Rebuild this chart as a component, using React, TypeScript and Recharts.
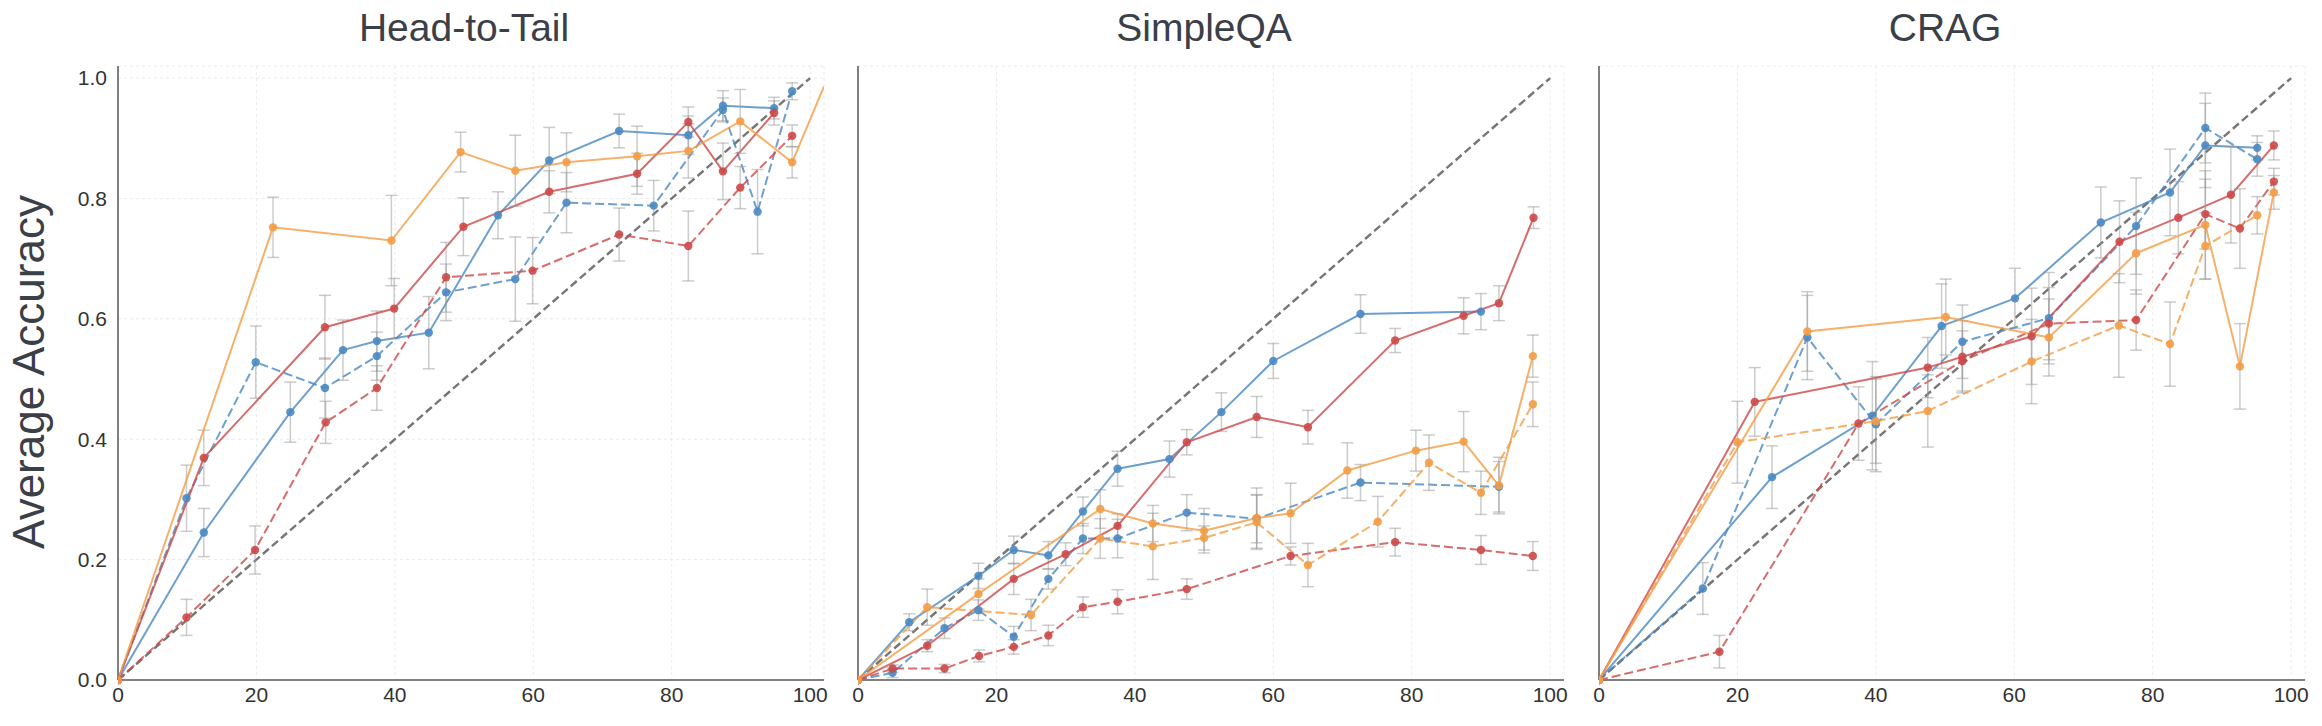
import React from 'react';
import { LineChart, Line, XAxis, YAxis, CartesianGrid, ErrorBar, ReferenceLine } from 'recharts';

type P = [number, number, number]; // [x, accuracy, error]

const X_TICKS = [0, 20, 40, 60, 80, 100];
const Y_TICKS = [0, 0.2, 0.4, 0.6, 0.8, 1.0];
const TITLES = ['Head-to-Tail', 'SimpleQA', 'CRAG'];
const Y_LABEL = 'Average Accuracy';

// ---------- Head-to-Tail ----------
const H2T_BLUE_SOLID: P[] = [[0, 0, 0], [12.4, 0.245, 0.04], [24.9, 0.445, 0.05], [32.5, 0.548, 0.05], [37.4, 0.563, 0.05], [44.9, 0.577, 0.06], [54.9, 0.772, 0.039], [62.3, 0.863, 0.055], [72.4, 0.912, 0.028], [82.4, 0.905, 0.032], [87.4, 0.954, 0.025], [94.8, 0.95, 0.018]];
const H2T_BLUE_DASHED: P[] = [[0, 0, 0], [9.9, 0.302, 0.055], [19.9, 0.528, 0.06], [29.9, 0.485, 0.05], [37.4, 0.538, 0.04], [47.4, 0.644, 0.047], [57.4, 0.666, 0.07], [64.8, 0.793, 0.05], [77.4, 0.788, 0.042], [87.4, 0.947, 0.02], [92.4, 0.778, 0.07], [97.4, 0.978, 0.014]];
const H2T_RED_SOLID: P[] = [[0, 0, 0], [12.4, 0.369, 0.046], [29.9, 0.586, 0.053], [39.9, 0.617, 0.05], [49.9, 0.753, 0.048], [62.3, 0.811, 0.035], [75.0, 0.841, 0.034], [82.4, 0.927, 0.025], [87.4, 0.845, 0.047], [94.8, 0.942, 0.02]];
const H2T_RED_DASHED: P[] = [[0, 0, 0], [9.9, 0.104, 0.03], [19.8, 0.216, 0.04], [30.0, 0.428, 0.035], [37.4, 0.485, 0.037], [47.4, 0.669, 0.058], [59.9, 0.68, 0.055], [72.4, 0.74, 0.044], [82.4, 0.721, 0.058], [89.9, 0.818, 0.035], [97.4, 0.904, 0.018]];
const H2T_ORANGE_SOLID: P[] = [[0, 0, 0], [22.4, 0.752, 0.05], [39.5, 0.73, 0.075], [49.5, 0.877, 0.033], [57.4, 0.846, 0.059], [64.8, 0.86, 0.049], [75.0, 0.87, 0.05], [82.4, 0.879, 0.045], [89.9, 0.928, 0.053], [97.4, 0.86, 0.026], [102, 0.986, 0]];

// ---------- SimpleQA ----------
const SQA_BLUE_SOLID: P[] = [[0, 0, 0], [7.4, 0.096, 0.014], [17.4, 0.173, 0.021], [22.5, 0.216, 0.023], [27.5, 0.207, 0.023], [32.5, 0.28, 0.024], [37.5, 0.351, 0.029], [45.0, 0.367, 0.03], [52.5, 0.445, 0.032], [60.0, 0.53, 0.029], [72.6, 0.608, 0.032], [90.0, 0.612, 0.03]];
const SQA_BLUE_DASHED: P[] = [[0, 0, 0], [5.0, 0.012, 0.008], [12.5, 0.086, 0.017], [17.4, 0.116, 0.017], [22.5, 0.072, 0.017], [27.5, 0.168, 0.017], [32.5, 0.235, 0.025], [37.5, 0.235, 0.032], [47.5, 0.278, 0.03], [57.6, 0.268, 0.04], [72.6, 0.328, 0.03], [92.6, 0.321, 0.042]];
const SQA_RED_SOLID: P[] = [[0, 0, 0], [10.0, 0.057, 0.01], [22.5, 0.168, 0.026], [30.0, 0.209, 0.019], [37.5, 0.256, 0.02], [47.5, 0.395, 0.021], [57.6, 0.437, 0.034], [65.0, 0.42, 0.028], [77.6, 0.564, 0.02], [87.5, 0.605, 0.03], [92.6, 0.626, 0.029], [97.6, 0.768, 0.018]];
const SQA_RED_DASHED: P[] = [[0, 0, 0], [5.0, 0.019, 0.006], [12.5, 0.019, 0.007], [17.5, 0.04, 0.01], [22.5, 0.055, 0.012], [27.5, 0.074, 0.017], [32.5, 0.121, 0.017], [37.5, 0.13, 0.02], [47.5, 0.151, 0.017], [62.5, 0.206, 0.015], [77.6, 0.229, 0.023], [90.0, 0.216, 0.024], [97.5, 0.206, 0.024]];
const SQA_ORANGE_SOLID: P[] = [[0, 0, 0], [17.4, 0.143, 0.025], [35.0, 0.284, 0.032], [42.6, 0.26, 0.03], [50.0, 0.248, 0.037], [57.6, 0.269, 0.05], [62.5, 0.277, 0.05], [70.7, 0.348, 0.046], [80.6, 0.381, 0.034], [87.5, 0.396, 0.05], [92.6, 0.323, 0.047], [97.5, 0.538, 0.035]];
const SQA_ORANGE_DASHED: P[] = [[0, 0, 0], [10.0, 0.121, 0.03], [25.0, 0.108, 0.026], [35.0, 0.235, 0.033], [42.6, 0.222, 0.055], [50.0, 0.236, 0.02], [57.6, 0.262, 0.045], [65.0, 0.191, 0.036], [75.1, 0.263, 0.042], [82.5, 0.361, 0.046], [90.0, 0.311, 0.036], [97.5, 0.458, 0.037]];

// ---------- CRAG ----------
const CRAG_BLUE_SOLID: P[] = [[0, 0, 0], [25.0, 0.337, 0.052], [39.5, 0.439, 0.09], [49.5, 0.588, 0.07], [60.1, 0.634, 0.05], [72.5, 0.76, 0.059], [82.5, 0.81, 0.072], [87.6, 0.888, 0.07], [95.1, 0.884, 0.02]];
const CRAG_BLUE_DASHED: P[] = [[0, 0, 0], [15.0, 0.152, 0.043], [30.1, 0.569, 0.07], [40.0, 0.425, 0.079], [52.5, 0.562, 0.061], [65.0, 0.601, 0.076], [77.6, 0.754, 0.08], [87.6, 0.917, 0.058], [95.1, 0.865, 0.028]];
const CRAG_RED_SOLID: P[] = [[0, 0, 0], [22.5, 0.462, 0.057], [47.5, 0.519, 0.05], [52.5, 0.537, 0.06], [62.5, 0.571, 0.08], [75.2, 0.728, 0.068], [83.7, 0.768, 0.06], [91.3, 0.806, 0.08], [97.5, 0.888, 0.024]];
const CRAG_RED_DASHED: P[] = [[0, 0, 0], [17.4, 0.047, 0.027], [37.5, 0.426, 0.061], [52.5, 0.53, 0.05], [65.0, 0.592, 0.06], [77.6, 0.598, 0.05], [87.6, 0.774, 0.058], [92.6, 0.75, 0.066], [97.5, 0.828, 0.022]];
const CRAG_ORANGE_SOLID: P[] = [[0, 0, 0], [30.1, 0.579, 0.066], [50.1, 0.603, 0.063], [65.0, 0.569, 0.064], [77.6, 0.709, 0.068], [87.6, 0.756, 0.09], [92.6, 0.521, 0.071], [97.5, 0.81, 0.028]];
const CRAG_ORANGE_DASHED: P[] = [[0, 0, 0], [20.0, 0.395, 0.068], [40.0, 0.43, 0.07], [47.5, 0.447, 0.06], [62.5, 0.529, 0.07], [75.1, 0.589, 0.086], [82.5, 0.558, 0.07], [87.6, 0.721, 0.055], [95.1, 0.772, 0.031]];

const BLUE = '#4a88c2';
const RED = '#cc4848';
const ORANGE = '#f39c45';

type S = { name: string; pts: P[]; color: string; dashed: boolean };

const PANELS: S[][] = [
  [
    { name: 'bs', pts: H2T_BLUE_SOLID, color: BLUE, dashed: false },
    { name: 'bd', pts: H2T_BLUE_DASHED, color: BLUE, dashed: true },
    { name: 'rs', pts: H2T_RED_SOLID, color: RED, dashed: false },
    { name: 'rd', pts: H2T_RED_DASHED, color: RED, dashed: true },
    { name: 'os', pts: H2T_ORANGE_SOLID, color: ORANGE, dashed: false },
  ],
  [
    { name: 'bs', pts: SQA_BLUE_SOLID, color: BLUE, dashed: false },
    { name: 'bd', pts: SQA_BLUE_DASHED, color: BLUE, dashed: true },
    { name: 'rs', pts: SQA_RED_SOLID, color: RED, dashed: false },
    { name: 'rd', pts: SQA_RED_DASHED, color: RED, dashed: true },
    { name: 'os', pts: SQA_ORANGE_SOLID, color: ORANGE, dashed: false },
    { name: 'od', pts: SQA_ORANGE_DASHED, color: ORANGE, dashed: true },
  ],
  [
    { name: 'bs', pts: CRAG_BLUE_SOLID, color: BLUE, dashed: false },
    { name: 'bd', pts: CRAG_BLUE_DASHED, color: BLUE, dashed: true },
    { name: 'rs', pts: CRAG_RED_SOLID, color: RED, dashed: false },
    { name: 'rd', pts: CRAG_RED_DASHED, color: RED, dashed: true },
    { name: 'os', pts: CRAG_ORANGE_SOLID, color: ORANGE, dashed: false },
    { name: 'od', pts: CRAG_ORANGE_DASHED, color: ORANGE, dashed: true },
  ],
];

const FONT = '"Liberation Sans", Arial, sans-serif';
const PLOT_LEFTS = [118, 858, 1599];
const YAXIS_W = 60;
const PLOT_W = 706;
const CHART_W = YAXIS_W + PLOT_W + 12;
const CHART_H = 726;
const PX_PER_X = PLOT_W / 102;

const makeDot = (color: string) => (props: any) => {
  const { cx, cy, payload, index } = props;
  if (payload.x > 100 || cx == null) return <g key={`d${index}`} />;
  return <circle key={`d${index}`} cx={cx} cy={cy} r={4.2} fill={color} fillOpacity={0.9} />;
};

function Panel({ series, idx }: { series: S[]; idx: number }) {
  const left = PLOT_LEFTS[idx] - YAXIS_W;
  return (
    <div style={{ position: 'absolute', left, top: 0 }}>
      <LineChart width={CHART_W} height={CHART_H} margin={{ top: 66, right: 12, bottom: 16, left: 0 }}>
        <CartesianGrid stroke="#ebebeb" strokeDasharray="3 3" />
        <XAxis
          type="number"
          dataKey="x"
          domain={[0, 102]}
          ticks={X_TICKS}
          allowDataOverflow
          tickLine={false}
          tickSize={5}
          height={30}
          axisLine={{ stroke: '#808080', strokeWidth: 2 }}
          tick={{ fontSize: 21, fill: '#333', fontFamily: FONT }}
        />
        <YAxis
          type="number"
          domain={[0, 1.02]}
          ticks={Y_TICKS}
          width={YAXIS_W}
          tickLine={false}
          tickSize={9}
          axisLine={{ stroke: '#808080', strokeWidth: 2 }}
          tick={idx === 0 ? { fontSize: 21, fill: '#333', fontFamily: FONT } : false}
          tickFormatter={(v: number) => v.toFixed(1)}
        />
        <ReferenceLine
          segment={[{ x: 0, y: 0 }, { x: 100, y: 1 }]}
          stroke="#777"
          strokeWidth={2.4}
          strokeDasharray="8 4"
        />
        {series.map((s) => (
          <Line
            key={s.name}
            data={s.pts.map(([x, y, e]) => ({ x, y, e }))}
            dataKey="y"
            type="linear"
            stroke={s.color}
            strokeOpacity={0.8}
            strokeWidth={2}
            strokeDasharray={s.dashed ? '9 4' : undefined}
            dot={makeDot(s.color)}
            activeDot={false}
            isAnimationActive={false}
          >
            <ErrorBar dataKey="e" direction="y" width={6} stroke="#999" strokeOpacity={0.5} strokeWidth={1.5} />
          </Line>
        ))}
      </LineChart>
    </div>
  );
}

export default function App() {
  return (
    <div style={{ position: 'absolute', left: 0, top: 0, width: 2322, height: 726, background: '#fff', overflow: 'hidden' }}>
      {PANELS.map((s, i) => (
        <Panel key={i} series={s} idx={i} />
      ))}
      {TITLES.map((t, i) => (
        <div
          key={t}
          style={{
            position: 'absolute',
            left: PLOT_LEFTS[i] + 50 * PX_PER_X - 300,
            top: 6,
            width: 600,
            textAlign: 'center',
            fontFamily: FONT,
            fontSize: 39,
            lineHeight: '44px',
            color: '#3b4048',
          }}
        >
          {t}
        </div>
      ))}
      <svg style={{ position: 'absolute', left: 0, top: 0 }} width={60} height={726}>
        <text
          x={28}
          y={372}
          transform="rotate(-90 28 372)"
          textAnchor="middle"
          dominantBaseline="central"
          fontFamily={FONT}
          fontSize={44}
          fill="#3b4048"
        >
          {Y_LABEL}
        </text>
      </svg>
    </div>
  );
}
